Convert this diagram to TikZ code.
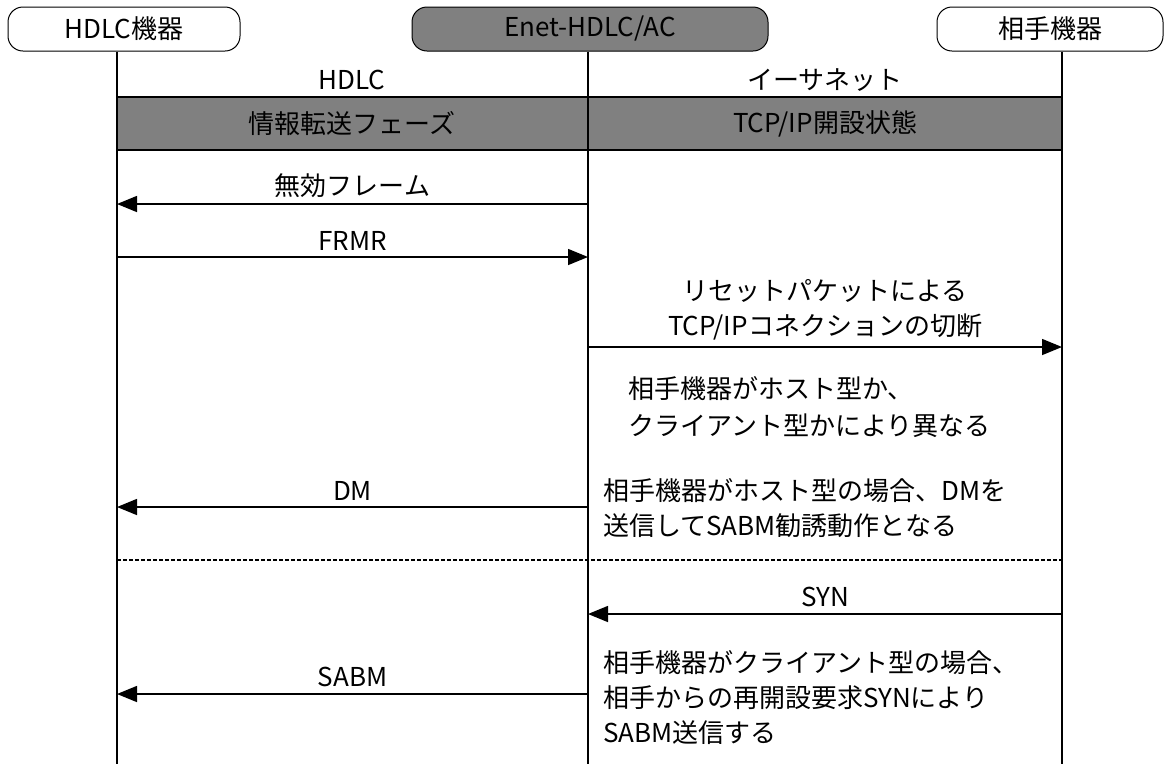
\documentclass[tikz,border=0pt]{standalone}
\usepackage{fontspec}
\setmainfont{Noto Sans CJK JP}
\usetikzlibrary{arrows.meta}

\begin{document}
\begin{tikzpicture}[x=1pt, y=-1pt, font=\fontsize{26}{35}\selectfont,
	actor/.style={draw, line width=1pt, rounded corners=15pt, minimum height=44pt, inner sep=0pt},
	msg/.style={line width=1.5pt, -{Triangle[length=20pt,width=16pt]}},
	life/.style={line width=1.2pt},
	lbl/.style={above, inner sep=6pt},
	note/.style={anchor=west, align=left, inner sep=0pt}]
	\useasboundingbox (0,0) rectangle (1172,764);

	% participants
	\node[actor, minimum width=232pt] (hdlc) at (124,29) {HDLC機器};
	\node[actor, minimum width=356pt, fill=gray] (enet) at (590,29) {Enet-HDLC/AC};
	\node[actor, minimum width=226pt] (peer) at (1050,29) {相手機器};

	\coordinate (L) at (117,0);
	\coordinate (E) at (588,0);
	\coordinate (P) at (1062,0);
	\coordinate (bot) at (0,764);

	% lifelines
	\draw[life] (L |- hdlc.south) -- (L |- bot);
	\draw[life] (E |- enet.south) -- (E |- bot);
	\draw[life] (P |- peer.south) -- (P |- bot);

	% protocol band
	\node (hdlclink) at (352,80) {HDLC};
	\node (ethlink) at (825,80) {イーサネット};
	\coordinate (bandtop) at (0,97);
	\coordinate (bandbot) at (0,150);
	\draw[life, fill=gray] (L |- bandtop) rectangle (P |- bandbot);
	\draw[life] (E |- bandtop) -- (E |- bandbot);
	\node (hdlcstate) at (352,124) {情報転送フェーズ};
	\node (tcpstate) at (825,124) {TCP/IP開設状態};

	% messages
	\coordinate (r1) at (0,204);
	\coordinate (r2) at (0,257);
	\coordinate (r3) at (0,347);
	\coordinate (r4) at (0,507);
	\coordinate (r5) at (0,560);
	\coordinate (r6) at (0,614);
	\coordinate (r7) at (0,694);

	\draw[msg] (E |- r1) -- (L |- r1) node[lbl, midway] {無効フレーム};
	\draw[msg] (L |- r2) -- (E |- r2) node[lbl, midway] {FRMR};
	\draw[msg] (E |- r3) -- (P |- r3) node[lbl, midway, align=center] {リセットパケットによる\\TCP/IPコネクションの切断};
	\node[note, font=\fontsize{26}{37}\selectfont] (kind) at (628,407) {相手機器がホスト型か、\\クライアント型かにより異なる};

	\draw[msg] (E |- r4) -- (L |- r4) node[lbl, midway] {DM};
	\node[note] (hostcase) at (603,508) {相手機器がホスト型の場合、DMを\\送信してSABM勧誘動作となる};

	\draw[life, dash pattern=on 4pt off 2pt] (L |- r5) -- (P |- r5);

	\draw[msg] (P |- r6) -- (E |- r6) node[lbl, midway] {SYN};
	\draw[msg] (E |- r7) -- (L |- r7) node[lbl, midway] {SABM};
	\node[note] (clientcase) at (603,698) {相手機器がクライアント型の場合、\\相手からの再開設要求SYNにより\\SABM送信する};
\end{tikzpicture}
\end{document}
